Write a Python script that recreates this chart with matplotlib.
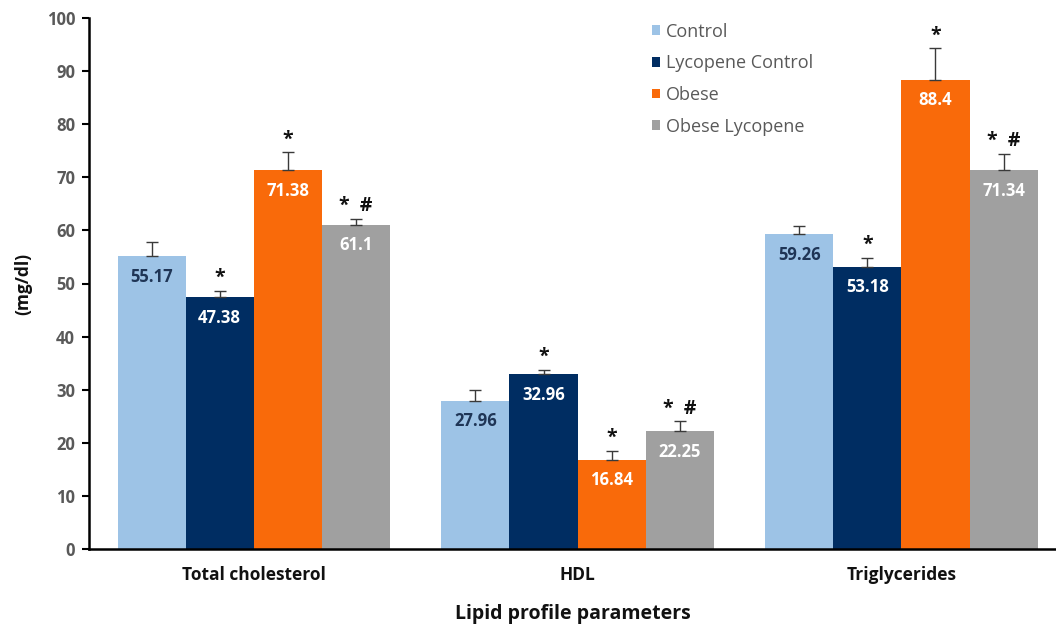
import numpy as np
import matplotlib
matplotlib.use("Agg")
import matplotlib.pyplot as plt

plt.rcParams['font.family'] = ['Open Sans', 'DejaVu Sans']

# Data
categories = ["Total cholesterol", "HDL", "Triglycerides"]
groups = ["Control", "Lycopene Control", "Obese", "Obese Lycopene"]
control = [55.17, 27.96, 59.26]
lycopene_control = [47.38, 32.96, 53.18]
obese = [71.38, 16.84, 88.4]
obese_lycopene = [61.1, 22.25, 71.34]

control_err = [2.7, 1.9, 1.5]
lycopene_control_err = [1.2, 0.8, 1.6]
obese_err = [3.3, 1.6, 5.9]
obese_lycopene_err = [1.1, 1.8, 3.0]

control_sig = ["", "", ""]
lycopene_control_sig = ["*", "*", "*"]
obese_sig = ["*", "*", "*"]
obese_lycopene_sig = ["*  #", "*  #", "*  #"]

series = [control, lycopene_control, obese, obese_lycopene]
errors = [control_err, lycopene_control_err, obese_err, obese_lycopene_err]
sigs = [control_sig, lycopene_control_sig, obese_sig, obese_lycopene_sig]
colors = ["#9DC3E6", "#002D62", "#F96A0A", "#A0A0A0"]
value_colors = ["#1F3556", "white", "white", "white"]

fig = plt.figure(figsize=(10.56, 6.29), dpi=100)
ax = fig.add_axes([89 / 1056, 1 - 549 / 629, 1 - 89 / 1056, (549 - 18) / 629])

x = np.arange(len(categories))
width = 0.21

for i, (vals, errs, sg, col, vcol, name) in enumerate(
        zip(series, errors, sigs, colors, value_colors, groups)):
    pos = x + (i - 1.5) * width
    ax.bar(pos, vals, width, color=col, label=name, zorder=2)
    ax.errorbar(pos, vals, yerr=[np.zeros(len(vals)), errs], fmt='none',
                ecolor='#3a3a3a', elinewidth=1.0, capsize=4, capthick=1.0,
                zorder=3)
    for p, v, e, s in zip(pos, vals, errs, sg):
        ax.annotate(f"{v:g}", (p, v), xytext=(0, -15), textcoords='offset points',
                    ha='center', va='center', color=vcol, fontsize=12,
                    fontweight='bold', zorder=4)
        if s:
            ax.annotate(s, (p, v + e), xytext=(0, 2), textcoords='offset points',
                        ha='center', va='bottom', color='#111111', fontsize=14,
                        fontweight='bold', zorder=4)

ax.set_xlim(-0.508, 2.477)
ax.set_ylim(0, 100)
ax.set_yticks(np.arange(0, 101, 10))
ax.set_xticks(x)
ax.set_xticklabels(categories, fontsize=12.5, fontweight='bold', color='#111111')
ax.tick_params(axis='x', length=0, pad=12)
ax.tick_params(axis='y', length=5, width=1.5, direction='out', labelsize=12,
               labelcolor='#595959', pad=5)
for lab in ax.get_yticklabels():
    lab.set_fontweight('bold')

for side in ['top', 'right']:
    ax.spines[side].set_visible(False)
for side in ['left', 'bottom']:
    ax.spines[side].set_linewidth(1.8)
    ax.spines[side].set_color('black')

ax.set_ylabel("(mg/dl)", fontsize=12.5, fontweight='bold', color='#111111', labelpad=10)
ax.set_xlabel("Lipid profile parameters", fontsize=14, fontweight='bold',
              color='#111111', labelpad=15)

leg = ax.legend(loc='upper left', bbox_to_anchor=((645 - 89) / 967, 1.005),
                frameon=False, fontsize=13, handlelength=0.45, handleheight=0.45,
                handletextpad=0.3, labelspacing=0.76, borderaxespad=0)
for t in leg.get_texts():
    t.set_color('#595959')

fig.savefig("out.png", dpi=100)
